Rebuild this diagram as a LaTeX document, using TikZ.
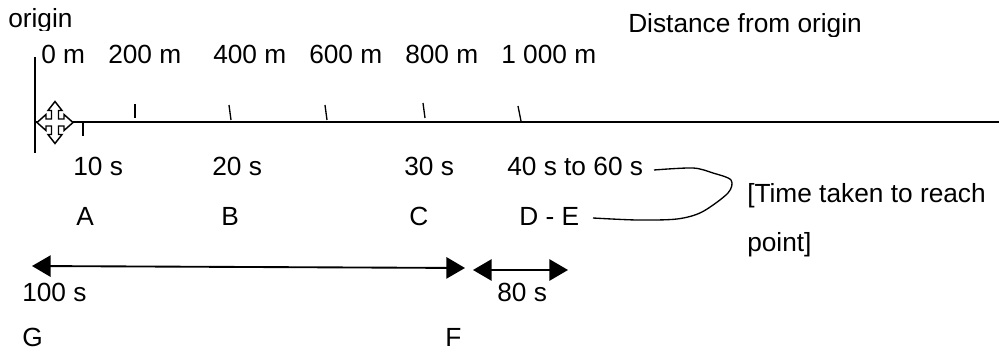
\documentclass[tikz,border=0pt]{standalone}
\usepackage{fontspec}
\setmainfont{Liberation Sans}
\usetikzlibrary{arrows.meta}

\tikzset{
	lbl/.style = {anchor=base west, inner sep=0pt, font=\fontsize{19.7}{22}\selectfont},
	axisline/.style = {line width=1.5pt},
	tick/.style = {line width=1pt},
	span/.style = {line width=1.4pt, {Triangle[length=14pt,width=16pt]}-{Triangle[length=14pt,width=16pt]}},
}

\begin{document}
\begin{tikzpicture}[x=0.75pt, y=-0.75pt]
		\useasboundingbox (0,0) rectangle (999,352);

		% axes
		\coordinate (top) at (35,57);
		\coordinate (bottom) at (35,153);
		\coordinate (start) at (35,122);
		\coordinate (end) at (999,122);
		\draw [axisline] (top) -- (bottom);
		\draw [axisline] (start) -- (end);

		% ticks
		\draw [tick] (83,123) -- (83,136);
		\draw [tick] (135,104) -- (135,118);
		\draw [tick] (229,105) -- (231,120);
		\draw [tick] (325,105) -- (327,120);
		\draw [tick] (423,103) -- (425,118);
		\draw [tick] (518,106) -- (521,121);

		% move cursor
		\begin{scope} [shift={(55,122.5)}]
			\draw [line width=1.1pt, fill=white] (-18,0) -- (-9,-8) -- (-9,-3.5) -- (-3.5,-3.5) -- (-3.5,-12) -- (-7,-12) -- (0,-21) -- (7,-12) -- (3.5,-12) -- (3.5,-3.5) -- (9,-3.5) -- (9,-8) -- (18,0) -- (9,8) -- (9,3.5) -- (3.5,3.5) -- (3.5,12) -- (7,12) -- (0,21) -- (-7,12) -- (-3.5,12) -- (-3.5,3.5) -- (-9,3.5) -- (-9,8) -- cycle;
		\end{scope}

		% distances
		\begin{scope}
			\clip (0,0) rectangle (999,31);
			\node [lbl] (origin) at (8,28) {origin};
		\end{scope}
		\begin{scope}
			\clip (600,0) rectangle (999,37);
			\node [lbl] (distance) at (628,33) {Distance from origin};
		\end{scope}
		\foreach \name/\x/\txt in {m0/41/0 m, m200/108/200 m, m400/213/400 m, m600/309/600 m, m800/405/800 m, m1000/501/1 000 m}
			\node [lbl] (\name) at (\x,64) {\txt};

		% times
		\foreach \name/\x/\txt in {s10/73/10 s, s20/212/20 s, s30/404/30 s, s40/507/40 s to 60 s}
			\node [lbl] (\name) at (\x,176) {\txt};
		\foreach \name/\x/\txt in {a/76/A, b/221/B, c/409/C, de/519/D - E}
			\node [lbl] (\name) at (\x,226) {\txt};

		\node [lbl] (taken) at (747,202.5) {[Time taken to reach};
		\node [lbl] (point) at (747,251.5) {point]};

		% bracket
		\coordinate (upper) at (654,170);
		\coordinate (lower) at (593,218);
		\draw [line width=1pt] plot [smooth, tension=0.5] coordinates {(upper) (693,168) (713,173) (731,180) (728,193) (702,212) (677,219) (637,220) (lower)};

		% spans
		\coordinate (gleft) at (32,266);
		\coordinate (fright) at (465,268);
		\coordinate (fleft) at (473,270);
		\coordinate (eright) at (568,270);
		\draw [span] (gleft) -- (fright);
		\draw [span] (fleft) -- (eright);

		\node [lbl] (s100) at (22,302) {100 s};
		\node [lbl] (s80) at (497,302) {80 s};
		\node [lbl] (g) at (22,347) {G};
		\node [lbl] (f) at (445,347) {F};
	\end{tikzpicture}
\end{document}
